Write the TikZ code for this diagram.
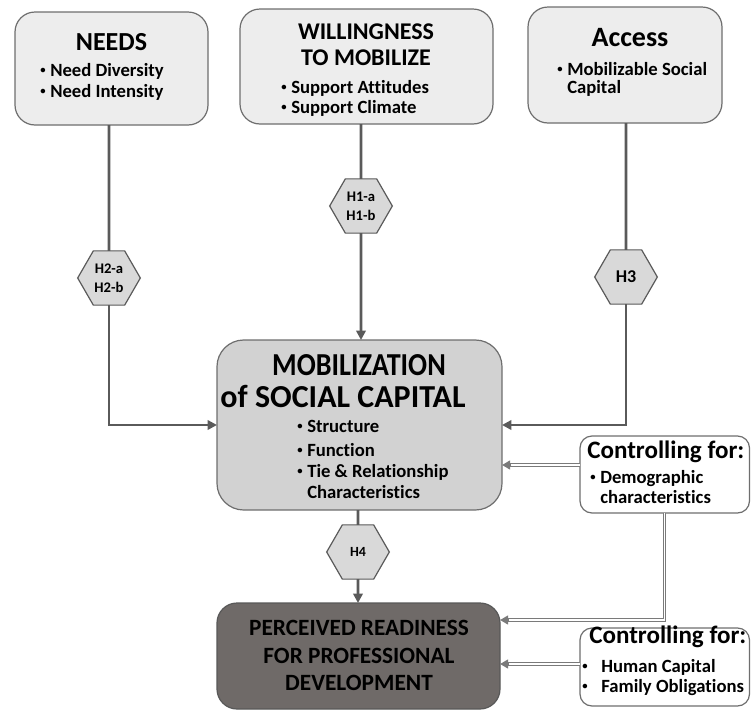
\documentclass[tikz,border=0pt]{standalone}
\usepackage{fontspec}
\setmainfont{Carlito}[Ligatures=NoCommon]
\usetikzlibrary{arrows.meta,shapes.geometric,fit}
\definecolor{topfill}{HTML}{EDEDED}
\definecolor{mobfill}{HTML}{D2D2D2}
\definecolor{hexfill}{HTML}{D9D9D9}
\definecolor{percfill}{HTML}{6F6A68}
\definecolor{boxline}{HTML}{6E6E6E}
\definecolor{conncol}{HTML}{5A5A5A}
\definecolor{dblcol}{HTML}{7A7A7A}
\tikzset{
  topbox/.style={draw=boxline, fill=topfill, line width=0.9pt, rounded corners=15pt, inner sep=0pt, outer sep=0pt},
  mobbox/.style={draw=boxline, fill=mobfill, line width=0.9pt, rounded corners=20pt, inner sep=0pt, outer sep=0pt},
  percbox/.style={draw=boxline!80!black, fill=percfill, line width=0.9pt, rounded corners=15pt, inner sep=0pt, outer sep=0pt},
  ctrlbox/.style={draw=boxline, fill=white, line width=0.9pt, rounded corners=9pt, inner sep=0pt, outer sep=0pt},
  hexa/.style={regular polygon, regular polygon sides=6, minimum size=47pt, inner sep=0pt, outer sep=0pt,
    draw=conncol, fill=hexfill, line width=0.9pt, align=center, font=\fontsize{11}{14}\selectfont\bfseries},
  lt/.style={inner sep=0pt, anchor=base west},
  ct/.style={inner sep=0pt, anchor=base},
  conn/.style={draw=conncol, line width=2pt},
  arr/.style={conn, -{Triangle[length=7pt,width=7pt]}},
  dbl/.style={draw=dblcol, line width=0.7pt, double=white, double distance=0.9pt},
  darr/.style={draw=dblcol, line width=1.5pt, -{Triangle[length=6pt,width=6.5pt]}},
}
\newcommand{\fTitle}{\fontsize{19.5}{23}\selectfont\bfseries}
\newcommand{\fAcc}{\fontsize{21}{25}\selectfont\bfseries}
\newcommand{\fWill}{\fontsize{18}{21}\selectfont\bfseries}
\newcommand{\fBul}{\fontsize{14}{16}\selectfont\bfseries}
\newcommand{\fMob}{\fontsize{24}{28}\selectfont\bfseries}
\newcommand{\fPerc}{\fontsize{17.5}{21}\selectfont\bfseries}
\newcommand{\fCtrl}{\fontsize{18.8}{22}\selectfont\bfseries}
\newcommand{\bul}[1][7.5pt]{\makebox[#1][l]{\raisebox{1.6pt}{\fontsize{8}{8}\selectfont•}}}
\begin{document}
\begin{tikzpicture}[x=0.75pt,y=-0.75pt]
\useasboundingbox (0,0) rectangle (751,711);

% ---- boxes ----
\node[topbox, fit={(15,12) (208,125)}] (needs) {};
\node[topbox, fit={(240,9) (493,124)}] (will) {};
\node[topbox, fit={(528,7) (722,123)}] (access) {};
\node[mobbox, fit={(217,340) (502,510)}] (mob) {};
\node[percbox, fit={(217,603) (500,709)}] (perc) {};
\node[ctrlbox, fit={(580,436) (749.5,513)}] (ctrlA) {};
\node[ctrlbox, fit={(580,628) (749.5,706)}] (ctrlB) {};

% ---- hexagons ----
\node[hexa] (h2) at (109,278) {H2-a\\H2-b};
\node[hexa] (h1) at (361,206) {H1-a\\H1-b};
\node[hexa, font=\fontsize{13.5}{16}\selectfont\bfseries] (h3) at (626,277) {H3};
\node[hexa, font=\fontsize{10.5}{13}\selectfont\bfseries] (h4) at (358,552) {H4};

% ---- texts ----
\node[ct, font=\fTitle] (tNeeds) at (111.5,50) {NEEDS};
\node[lt, font=\fBul] (tNeeds1) at (40,76) {\bul Need Diversity};
\node[lt, font=\fBul] (tNeeds2) at (40,97) {\bul Need Intensity};

\node[ct, font=\fWill] (tWill1) at (366,39) {WILLINGNESS};
\node[ct, font=\fWill] (tWill2) at (366,65) {TO MOBILIZE};
\node[lt, font=\fBul] (tWill3) at (281,93) {\bul Support Attitudes};
\node[lt, font=\fBul] (tWill4) at (281,113) {\bul Support Climate};

\node[ct, font=\fAcc] (tAcc) at (630,46) {Access};
\node[lt, font=\fBul] (tAcc1) at (557,75) {\bul Mobilizable Social};
\node[lt, font=\fBul] (tAcc2) at (567,93) {Capital};

\node[ct, font=\fMob] (tMob1) at (359,375) {\scalebox{0.88}[1]{MOBILIZATION}};
\node[ct, font=\fMob] (tMob2) at (343,407) {of SOCIAL CAPITAL};
\node[lt, font=\fBul] (tMob3) at (297,432) {\bul Structure};
\node[lt, font=\fBul] (tMob4) at (297,456) {\bul Function};
\node[lt, font=\fBul] (tMob5) at (297,477) {\bul Tie \& Relationship};
\node[lt, font=\fBul] (tMob6) at (307,498) {Characteristics};

\node[ct, font=\fPerc] (tPerc1) at (359,635) {PERCEIVED READINESS};
\node[ct, font=\fPerc] (tPerc2) at (359,663) {FOR PROFESSIONAL};
\node[ct, font=\fPerc] (tPerc3) at (359,690) {DEVELOPMENT};

\node[lt, font=\fCtrl] (tCA1) at (587,458) {Controlling for:};
\node[lt, font=\fBul] (tCA2) at (590,483) {\bul Demographic};
\node[lt, font=\fBul] (tCA3) at (600,503) {characteristics};

\node[lt, font=\fCtrl] (tCB1) at (589,643) {Controlling for:};
\node[lt, font=\fBul] (tCB2) at (582,672) {\bul[14.3pt]Human Capital};
\node[lt, font=\fBul] (tCB3) at (582,692) {\bul[14.3pt]Family Obligations};

% ---- connectors ----
\draw[conn] (needs.south -| h2) -- (h2.north);
\draw[arr] (h2.south) -- (h2.south |- mob.west) -- (mob.west);
\draw[conn] (will.south -| h1) -- (h1.north);
\draw[arr] (h1.south) -- (mob.north -| h1);
\draw[conn] (access.south -| h3) -- (h3.north);
\draw[arr] (h3.south) -- (h3.south |- mob.east) -- (mob.east);
\draw[conn] (mob.south -| h4) -- (h4.north);
\draw[arr] (h4.south) -- (perc.north -| h4);

% double-line connectors
\draw[dbl] (ctrlA.west |- 0,465) -- ([xshift=6pt]mob.east |- 0,465);
\draw[darr] ([xshift=7pt]mob.east |- 0,465) -- (mob.east |- 0,465);
\draw[dbl] (ctrlA.south) -- (ctrlA.south |- 0,620) -- ([xshift=6pt]perc.east |- 0,620);
\draw[darr] ([xshift=7pt]perc.east |- 0,620) -- (perc.east |- 0,620);
\draw[dbl] (ctrlB.west |- 0,664) -- ([xshift=6pt]perc.east |- 0,664);
\draw[darr] ([xshift=7pt]perc.east |- 0,664) -- (perc.east |- 0,664);
\end{tikzpicture}
\end{document}
